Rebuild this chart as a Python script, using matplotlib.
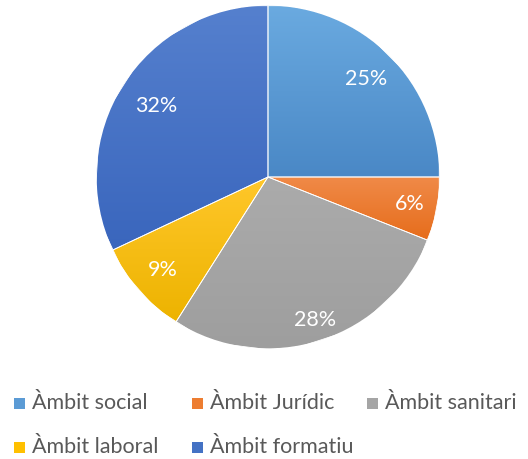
import matplotlib
matplotlib.use("Agg")
import matplotlib.pyplot as plt
import numpy as np
from matplotlib.patches import Rectangle
from matplotlib.colors import to_rgb

categories = ["Àmbit social", "Àmbit Jurídic", "Àmbit sanitari", "Àmbit laboral", "Àmbit formatiu"]
values = [25, 6, 28, 9, 32]
base_colors = ["#5B9BD5", "#ED7D31", "#A5A5A5", "#FFC000", "#4472C4"]
top_colors = ["#6AAAE0", "#F08A48", "#ABABAB", "#FFC72A", "#5580CE"]
bot_colors = ["#4A88C6", "#E66D1C", "#9E9E9E", "#EDB300", "#3A66BD"]
label_radius = [0.81, 0.84, 0.88, 0.82, 0.77]

plt.rcParams['font.family'] = ['Lato', 'DejaVu Sans']

W, H = 528, 459
fig = plt.figure(figsize=(W / 100, H / 100), dpi=100)
ax = fig.add_axes([0.1799, 0.2375, 0.6553, 0.7538])
wedges, texts, autotexts = ax.pie(values, startangle=90, counterclock=False,
                                  colors=base_colors, autopct='%1.0f%%', pctdistance=0.8,
                                  wedgeprops=dict(edgecolor='white', linewidth=0.6),
                                  textprops=dict(color='white', fontsize=15.5))

# gradient fill per wedge
for w, tc, bc in zip(wedges, top_colors, bot_colors):
    verts = w.get_path().vertices
    ymin, ymax = verts[:, 1].min(), verts[:, 1].max()
    xmin, xmax = verts[:, 0].min(), verts[:, 0].max()
    t = np.linspace(0, 1, 64)[:, None]
    c0 = np.array(to_rgb(tc)); c1 = np.array(to_rgb(bc))
    grad = (c0[None, :] * (1 - t) + c1[None, :] * t)[:, None, :]
    im = ax.imshow(grad, extent=[xmin, xmax, ymin, ymax], origin='upper',
                   aspect='auto', zorder=w.get_zorder() + 0.1, interpolation='bilinear')
    im.set_clip_path(w)
    ax.add_patch(plt.Polygon(verts, closed=True, fill=False, edgecolor='white',
                             linewidth=0.6, zorder=w.get_zorder() + 0.2))

for w, t_, r in zip(wedges, autotexts, label_radius):
    ang = np.deg2rad((w.theta1 + w.theta2) / 2)
    t_.set_position((r * np.cos(ang), r * np.sin(ang)))
    t_.set_zorder(10)

ax.set_xlim(-1.01, 1.01)
ax.set_ylim(-1.01, 1.01)
ax.set_aspect('equal')
ax.axis('off')

# manual legend, row-major
legend_cols_px = [14, 192, 367]
legend_rows_px = [403, 447]
sq = 11
for i, (lab, col) in enumerate(zip(categories, base_colors)):
    r, c = divmod(i, 3)
    x = legend_cols_px[c]
    y = legend_rows_px[r]
    fig.add_artist(Rectangle((x / W, 1 - (y + sq / 2) / H), sq / W, sq / H,
                             transform=fig.transFigure, facecolor=col, edgecolor='none'))
    fig.text((x + sq + 7) / W, 1 - y / H, lab, fontsize=15.5, color='#595959',
             ha='left', va='center')

fig.savefig("out.png", dpi=100)
